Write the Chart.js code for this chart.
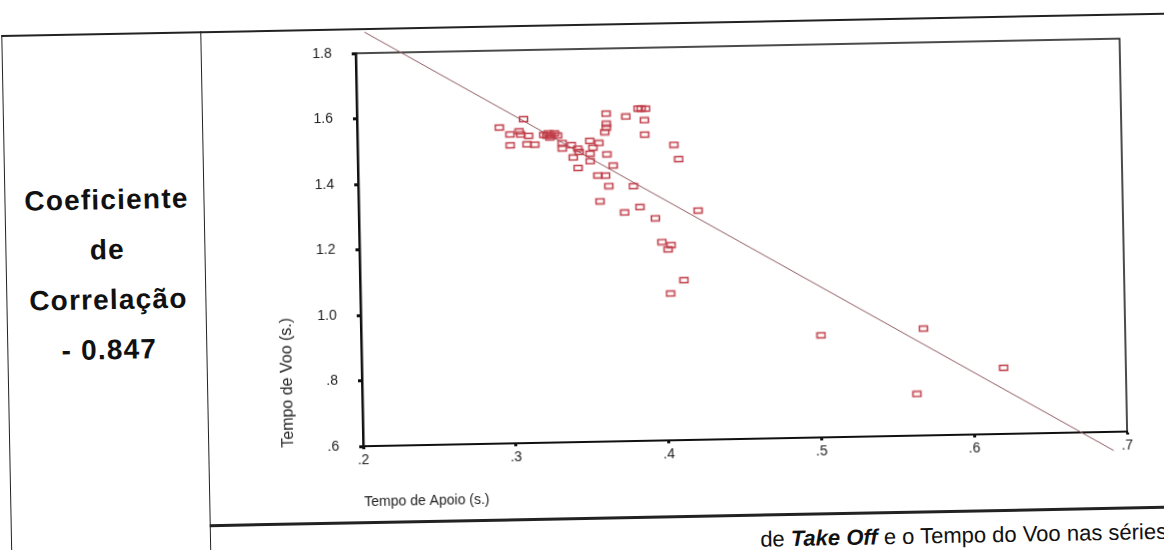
<!DOCTYPE html>
<html lang="pt">
<head>
<meta charset="utf-8">
<title>Tempo de Apoio x Tempo de Voo</title>
<script src="https://cdn.jsdelivr.net/npm/chart.js@4.4.1/dist/chart.umd.min.js"></script>
<style>
  html, body { margin: 0; padding: 0; background: #fff; overflow: hidden; }
  #page {
    position: relative; width: 1164px; height: 550px;
    transform: rotate(-1.1deg); transform-origin: 582px 275px;
    font-family: "Liberation Sans", Arial, sans-serif; color: #111;
  }
  .rule { position: absolute; background: #222; }
  #coef {
    position: absolute; left: 8px; width: 200px; top: 166px;
    text-align: center; font-weight: bold; font-size: 28px; line-height: 50px;
    letter-spacing: 1.2px;
  }
  #plot { position: absolute; left: 210px; top: 0; width: 954px; height: 520px; }
  #caption { position: absolute; right: 2px; top: 530px; font-size: 22px; white-space: nowrap; }
</style>
</head>
<body>
<div id="page">
  <div class="rule" style="left:6px;top:24px;width:1170px;height:1.5px"></div>
  <div class="rule" style="left:6px;top:24px;width:1px;height:560px"></div>
  <div class="rule" style="left:205px;top:24px;width:1.2px;height:560px"></div>
  <div class="rule" style="left:205px;top:517px;width:970px;height:2.5px"></div>

  <div id="coef">Coeficiente<br>de<br>Correlação<br>- 0.847</div>

  <div id="plot"><canvas id="scatter" width="954" height="520"></canvas></div>

  <div id="caption">de <b><i>Take Off</i></b> e o Tempo do Voo nas séries</div>
</div>

<script>
const xTickValues = [0.2, 0.3, 0.4, 0.5, 0.6, 0.7];
const xTickLabels = ['.2', '.3', '.4', '.5', '.6', '.7'];
const yTickValues = [0.6, 0.8, 1.0, 1.2, 1.4, 1.6, 1.8];
const yTickLabels = ['.6', '.8', '1.0', '1.2', '1.4', '1.6', '1.8'];

// one entry per jump: tempo de apoio (s.) and tempo de voo (s.)
const tempoApoio = [
  0.293, 0.309, 0.300, 0.300, 0.306, 0.307, 0.312, 0.311, 0.316,
  0.322, 0.325, 0.327, 0.329, 0.331, 0.326, 0.324,
  0.334, 0.334, 0.340, 0.344, 0.345, 0.352, 0.358, 0.354, 0.352,
  0.341, 0.352, 0.344, 0.363, 0.367, 0.357, 0.362, 0.364, 0.380,
  0.358, 0.374, 0.384, 0.394, 0.422, 0.398, 0.404, 0.402, 0.412, 0.403,
  0.363, 0.376, 0.384, 0.386, 0.389, 0.388, 0.363, 0.363, 0.362,
  0.388, 0.407, 0.410,
  0.501, 0.568, 0.620, 0.563
];
const tempoVoo = [
  1.565, 1.589, 1.543, 1.510, 1.552, 1.542, 1.538, 1.512, 1.511,
  1.540, 1.545, 1.538, 1.544, 1.537, 1.532, 1.538,
  1.514, 1.497, 1.507, 1.496, 1.486, 1.519, 1.512, 1.498, 1.480,
  1.469, 1.457, 1.437, 1.477, 1.442, 1.413, 1.412, 1.380, 1.378,
  1.334, 1.298, 1.314, 1.279, 1.300, 1.206, 1.196, 1.183, 1.088, 1.048,
  1.601, 1.591, 1.615, 1.615, 1.614, 1.579, 1.570, 1.558, 1.545,
  1.535, 1.502, 1.458,
  0.912, 0.926, 0.802, 0.727
];

// linear fit, end points
const fitApoio = [0.206, 0.691];
const fitVoo = [1.864, 0.543];

const font = { family: '"Liberation Sans", Arial, sans-serif' };

// hollow rectangle marker, as in the SPSS output
const marker = document.createElement('canvas');
marker.width = 11;
marker.height = 8;
const mctx = marker.getContext('2d');
mctx.strokeStyle = '#bf3a46';
mctx.lineWidth = 1.5;
mctx.strokeRect(1.5, 1.5, 8, 5);

const framePlugin = {
  id: 'frame',
  beforeDatasetsDraw(chart) {
    const { ctx, chartArea: a } = chart;
    ctx.save();
    ctx.strokeStyle = '#111';
    ctx.lineWidth = 1.5;
    ctx.strokeRect(a.left, a.top, a.right - a.left, a.bottom - a.top);
    ctx.restore();
  }
};

new Chart(document.getElementById('scatter').getContext('2d'), {
  type: 'scatter',
  data: {
    datasets: [
      {
        label: 'Tempo de Voo',
        data: tempoApoio.map((x, i) => ({ x: x, y: tempoVoo[i] })),
        pointStyle: marker,
        pointRadius: 4,
        order: 1
      },
      {
        type: 'line',
        label: 'Ajuste linear',
        data: fitApoio.map((x, i) => ({ x: x, y: fitVoo[i] })),
        borderColor: '#8f5b60',
        borderWidth: 1,
        pointRadius: 0,
        clip: false,
        order: 2
      }
    ]
  },
  options: {
    responsive: false,
    animation: false,
    events: [],
    layout: { padding: { left: 0, right: 40, top: 49, bottom: 0 } },
    plugins: {
      legend: { display: false },
      tooltip: { enabled: false }
    },
    scales: {
      x: {
        type: 'linear',
        min: 0.2,
        max: 0.7,
        afterBuildTicks: s => { s.ticks = xTickValues.map(v => ({ value: v })); },
        afterFit: s => { s.height = 78; },
        ticks: {
          callback: (v, i) => xTickLabels[i],
          font: { ...font, size: 14 },
          color: '#222',
          padding: 3,
          maxRotation: 0,
          autoSkip: false
        },
        grid: { drawOnChartArea: false, tickLength: 3, tickWidth: 3, tickColor: '#111' },
        border: { color: '#111', width: 2 },
        title: {
          display: true,
          text: 'Tempo de Apoio (s.)',
          align: 'start',
          color: '#222',
          font: { ...font, size: 14 },
          padding: { top: 0, bottom: 13 }
        }
      },
      y: {
        type: 'linear',
        min: 0.6,
        max: 1.8,
        afterBuildTicks: s => { s.ticks = yTickValues.map(v => ({ value: v })); },
        afterFit: s => { s.width = 150; },
        ticks: {
          callback: (v, i) => yTickLabels[i],
          font: { ...font, size: 14 },
          color: '#222',
          padding: 20,
          autoSkip: false
        },
        grid: { drawOnChartArea: false, tickLength: 4, tickWidth: 3, tickColor: '#111' },
        border: { color: '#111', width: 2.5 },
        title: {
          display: true,
          text: 'Tempo de Voo (s.)',
          align: 'start',
          color: '#222',
          font: { ...font, size: 16 },
          padding: { top: 66, bottom: 0 }
        }
      }
    }
  },
  plugins: [framePlugin]
});
</script>
</body>
</html>
